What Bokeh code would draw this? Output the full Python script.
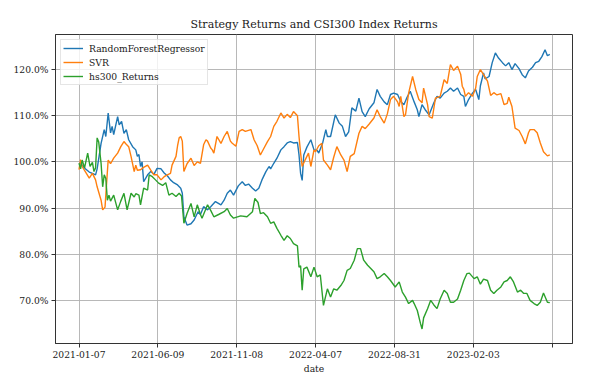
import numpy as np
from bokeh.plotting import figure
from bokeh.models import Range1d, FixedTicker, NumeralTickFormatter, Legend, LegendItem
from bokeh.embed import file_html
from bokeh.resources import INLINE

# ---- data (trading-day index, cumulative return in %) ----
tick_days = [0, 100, 200, 300, 400, 500, 600]
tick_labels = ["2021-01-07", "2021-06-09", "2021-11-08", "2022-04-07", "2022-08-31", "2023-02-03", ""]

rf_day = [0, 4, 8, 13, 17, 21, 23, 28, 32, 34, 37, 40, 42, 44, 49, 51, 54, 57, 60, 63, 68, 72, 74, 76, 78, 80, 82, 87, 91, 95, 99, 104, 108, 112, 116, 120, 125, 129, 131, 133, 137, 142, 146, 151, 154, 158, 163, 167, 173, 180, 184, 188, 192, 196, 202, 207, 211, 215, 220, 224, 228, 232, 237, 241, 243, 247, 251, 256, 260, 264, 268, 272, 277, 279, 281, 283, 285, 289, 294, 298, 302, 304, 309, 313, 315, 319, 325, 330, 334, 338, 342, 346, 351, 355, 359, 363, 368, 374, 378, 382, 387, 391, 395, 399, 404, 408, 412, 416, 420, 425, 429, 431, 435, 439, 444, 450, 454, 458, 463, 467, 471, 475, 480, 484, 488, 490, 494, 499, 503, 507, 509, 513, 515, 520, 524, 528, 532, 537, 541, 545, 549, 553, 558, 562, 566, 570, 575, 579, 583, 587, 591, 594, 597]
rf_pct = [99.8, 99.3, 98.5, 97.8, 97.5, 97.2, 98.5, 104.0, 107.0, 105.5, 110.6, 106.3, 107.7, 105.9, 109.8, 108.0, 108.8, 106.2, 107.0, 104.8, 103.3, 102.6, 101.2, 101.6, 99.0, 100.0, 95.7, 97.2, 97.9, 97.3, 98.6, 98.5, 97.6, 97.0, 96.1, 95.5, 95.0, 94.3, 93.2, 88.1, 86.3, 86.6, 87.4, 89.2, 88.6, 90.3, 89.6, 90.3, 91.4, 90.7, 91.7, 93.2, 93.9, 92.8, 94.8, 95.7, 94.9, 95.2, 94.3, 93.7, 94.3, 96.1, 97.9, 99.0, 98.5, 99.7, 100.8, 102.6, 103.3, 104.1, 104.4, 104.1, 104.2, 101.5, 97.5, 96.0, 101.5, 103.2, 104.8, 102.6, 102.5, 101.9, 104.1, 107.0, 105.5, 105.5, 110.2, 108.4, 107.7, 105.5, 106.5, 111.7, 111.0, 113.8, 110.9, 109.8, 111.5, 112.8, 115.7, 114.2, 113.0, 112.4, 114.6, 114.9, 114.6, 113.1, 112.4, 114.0, 115.3, 113.0, 111.3, 109.8, 112.4, 111.3, 110.2, 112.8, 114.2, 113.8, 114.9, 115.3, 116.0, 115.3, 116.0, 114.6, 114.2, 112.0, 113.5, 114.9, 115.7, 113.5, 116.5, 119.3, 118.0, 118.5, 121.5, 123.6, 122.5, 121.5, 120.8, 121.5, 120.0, 121.3, 120.2, 118.9, 118.2, 119.7, 120.5, 121.5, 121.8, 122.8, 124.3, 123.0, 123.3]

svr_day = [0, 2, 4, 8, 13, 17, 21, 23, 28, 30, 33, 35, 37, 40, 44, 49, 53, 57, 59, 63, 66, 70, 72, 74, 78, 82, 87, 91, 95, 99, 104, 108, 112, 116, 118, 123, 125, 127, 129, 131, 133, 137, 142, 146, 150, 154, 158, 161, 163, 167, 169, 171, 175, 180, 184, 188, 192, 194, 199, 203, 207, 211, 218, 222, 226, 230, 234, 239, 243, 247, 251, 256, 260, 264, 268, 272, 277, 279, 281, 283, 287, 291, 294, 298, 300, 304, 308, 310, 315, 319, 323, 327, 332, 336, 340, 344, 349, 355, 359, 363, 368, 374, 378, 382, 387, 391, 395, 399, 404, 406, 408, 412, 414, 418, 423, 427, 431, 435, 437, 442, 444, 448, 452, 458, 463, 467, 471, 475, 480, 484, 486, 488, 490, 494, 499, 503, 505, 509, 513, 518, 522, 526, 530, 535, 539, 543, 545, 549, 553, 558, 562, 566, 570, 572, 577, 581, 585, 589, 594, 597]
svr_pct = [98.3, 100.5, 99.0, 97.9, 96.5, 97.5, 96.1, 94.6, 91.7, 89.6, 90.2, 95.4, 100.4, 99.6, 100.8, 101.9, 103.3, 104.4, 104.0, 103.3, 101.2, 97.9, 99.3, 98.2, 98.3, 98.8, 99.3, 98.2, 97.2, 97.2, 96.1, 96.8, 97.2, 97.5, 99.3, 101.2, 103.5, 105.2, 105.5, 104.5, 97.9, 99.6, 100.8, 99.2, 100.0, 99.7, 103.7, 104.8, 104.5, 103.0, 102.6, 101.9, 105.5, 104.0, 105.5, 106.6, 104.5, 104.1, 103.4, 106.6, 107.0, 106.6, 107.0, 104.8, 103.5, 101.5, 102.8, 104.4, 105.5, 107.7, 108.8, 110.6, 109.5, 110.3, 109.6, 110.9, 110.0, 105.5, 101.9, 99.0, 100.5, 101.9, 99.0, 102.6, 102.2, 103.5, 104.0, 100.4, 99.3, 98.3, 101.0, 103.3, 101.5, 100.4, 97.9, 101.2, 101.8, 106.2, 107.7, 107.2, 108.2, 109.5, 111.3, 109.8, 108.4, 110.4, 113.5, 114.2, 113.0, 112.0, 114.2, 109.8, 110.2, 114.9, 118.5, 115.7, 113.5, 112.8, 116.0, 112.4, 109.8, 109.5, 113.8, 114.2, 117.8, 117.0, 121.1, 119.8, 120.7, 119.0, 116.4, 115.7, 114.2, 115.0, 114.2, 116.0, 118.5, 120.0, 118.9, 117.5, 114.4, 115.0, 114.5, 114.8, 112.4, 112.7, 114.0, 112.0, 107.3, 106.8, 105.5, 103.9, 106.3, 107.0, 107.0, 106.3, 104.1, 102.2, 101.3, 101.5]

hs_day = [0, 2, 4, 7, 11, 14, 17, 19, 21, 23, 25, 28, 30, 32, 34, 36, 38, 40, 44, 49, 53, 57, 61, 66, 70, 72, 76, 78, 82, 87, 89, 93, 97, 101, 106, 110, 114, 118, 123, 127, 130, 133, 137, 142, 146, 150, 154, 156, 163, 167, 171, 177, 184, 188, 192, 196, 205, 213, 220, 223, 227, 230, 234, 239, 243, 247, 251, 256, 260, 264, 268, 272, 277, 279, 281, 283, 285, 289, 294, 298, 302, 306, 310, 315, 319, 323, 327, 332, 336, 340, 344, 349, 353, 357, 361, 366, 370, 374, 378, 382, 387, 391, 395, 401, 406, 410, 414, 418, 423, 425, 429, 433, 435, 437, 442, 446, 450, 454, 458, 463, 467, 471, 475, 480, 484, 488, 492, 495, 501, 505, 509, 513, 518, 522, 526, 530, 535, 539, 543, 547, 551, 556, 560, 564, 568, 572, 577, 581, 585, 589, 594, 597]
hs_pct = [99.7, 98.5, 100.4, 98.7, 101.9, 99.0, 99.9, 97.9, 98.7, 105.2, 104.3, 99.7, 94.6, 97.2, 96.4, 91.7, 92.8, 91.5, 92.8, 89.6, 91.5, 93.2, 89.6, 93.2, 92.4, 93.1, 92.8, 90.7, 94.3, 93.9, 97.2, 96.8, 96.1, 95.4, 94.9, 95.5, 92.8, 93.2, 92.5, 93.2, 92.6, 86.7, 88.8, 91.0, 88.1, 90.7, 88.6, 87.8, 90.7, 89.5, 88.1, 88.6, 89.2, 89.9, 88.5, 87.8, 88.3, 88.1, 89.2, 92.1, 91.2, 88.8, 89.0, 88.1, 86.7, 87.0, 85.6, 84.1, 83.0, 84.0, 83.4, 82.3, 81.8, 77.2, 77.5, 72.2, 76.8, 77.2, 75.1, 77.2, 75.1, 75.5, 68.9, 72.5, 70.7, 72.5, 72.2, 73.2, 74.3, 76.5, 76.9, 78.7, 81.2, 81.2, 78.7, 77.6, 76.9, 76.2, 74.7, 75.1, 75.8, 75.1, 74.3, 72.9, 74.0, 71.8, 70.7, 69.3, 70.0, 69.3, 67.8, 65.0, 63.8, 66.2, 68.2, 70.0, 69.0, 68.2, 70.3, 72.2, 71.5, 69.6, 69.6, 70.3, 72.2, 74.3, 75.8, 75.9, 74.7, 75.1, 73.5, 74.6, 74.3, 72.2, 71.5, 72.2, 72.9, 74.0, 74.3, 75.1, 74.0, 71.8, 72.2, 71.5, 71.5, 70.0, 69.3, 68.9, 69.6, 71.6, 69.6, 69.5]

names = ["RandomForestRegressor", "SVR", "hs300_Returns"]
colors = ["#1f77b4", "#ff7f0e", "#2ca02c"]

FONT = "DejaVu Serif"
TXT = "#1a1a1a"

p = figure(width=597, height=388, output_backend="svg", toolbar_location=None,
           x_range=Range1d(-29.8, 625.8), y_range=Range1d(0.6065, 1.276),
           title="Strategy Returns and CSI300 Index Returns",
           min_border_left=55, min_border_right=25, min_border_top=34, min_border_bottom=45)
p.background_fill_color = "white"
p.border_fill_color = "white"
p.outline_line_color = "#333333"
p.outline_line_width = 1

p.title.text_font = FONT
p.title.text_font_style = "normal"
p.title.text_font_size = "11px"
p.title.text_color = TXT
p.title.align = "center"
p.title.standoff = 7

renderers = []
for day, pct, c in [(rf_day, rf_pct, colors[0]), (svr_day, svr_pct, colors[1]), (hs_day, hs_pct, colors[2])]:
    r = p.line(day, np.array(pct) / 100.0, line_color=c, line_width=1.4)
    renderers.append(r)

xa = p.xaxis[0]
xa.ticker = FixedTicker(ticks=tick_days)
xa.major_label_overrides = {d: lab for d, lab in zip(tick_days, tick_labels)}
xa.axis_label = "date"
ya = p.yaxis[0]
ya.ticker = FixedTicker(ticks=[0.7, 0.8, 0.9, 1.0, 1.1, 1.2])
ya.formatter = NumeralTickFormatter(format="0.0%")
for ax in (xa, ya):
    ax.axis_line_color = "#333333"
    ax.major_tick_line_color = "#333333"
    ax.minor_tick_line_color = None
    ax.major_tick_out = 4
    ax.major_tick_in = 0
    ax.major_label_text_font = FONT
    ax.major_label_text_font_size = "9.2px"
    ax.major_label_text_color = TXT
    ax.axis_label_text_font = FONT
    ax.axis_label_text_font_size = "9.2px"
    ax.axis_label_text_font_style = "normal"
    ax.axis_label_text_color = TXT
    ax.major_label_standoff = 3
xa.axis_label_standoff = 2

p.xgrid.grid_line_color = "#b0b0b0"
p.ygrid.grid_line_color = "#b0b0b0"
p.xgrid.grid_line_width = 0.9
p.ygrid.grid_line_width = 0.9

legend = Legend(items=[LegendItem(label=n, renderers=[r]) for n, r in zip(names, renderers)],
                location="top_left", margin=5, padding=2, spacing=2,
                label_height=12, glyph_height=12, glyph_width=20, label_standoff=6,
                label_text_font=FONT, label_text_font_size="9.2px", label_text_color=TXT,
                border_line_color="#cccccc", border_line_width=1,
                background_fill_color="white", background_fill_alpha=0.8)
p.add_layout(legend)

open("out.html", "w").write(file_html(p, INLINE))
